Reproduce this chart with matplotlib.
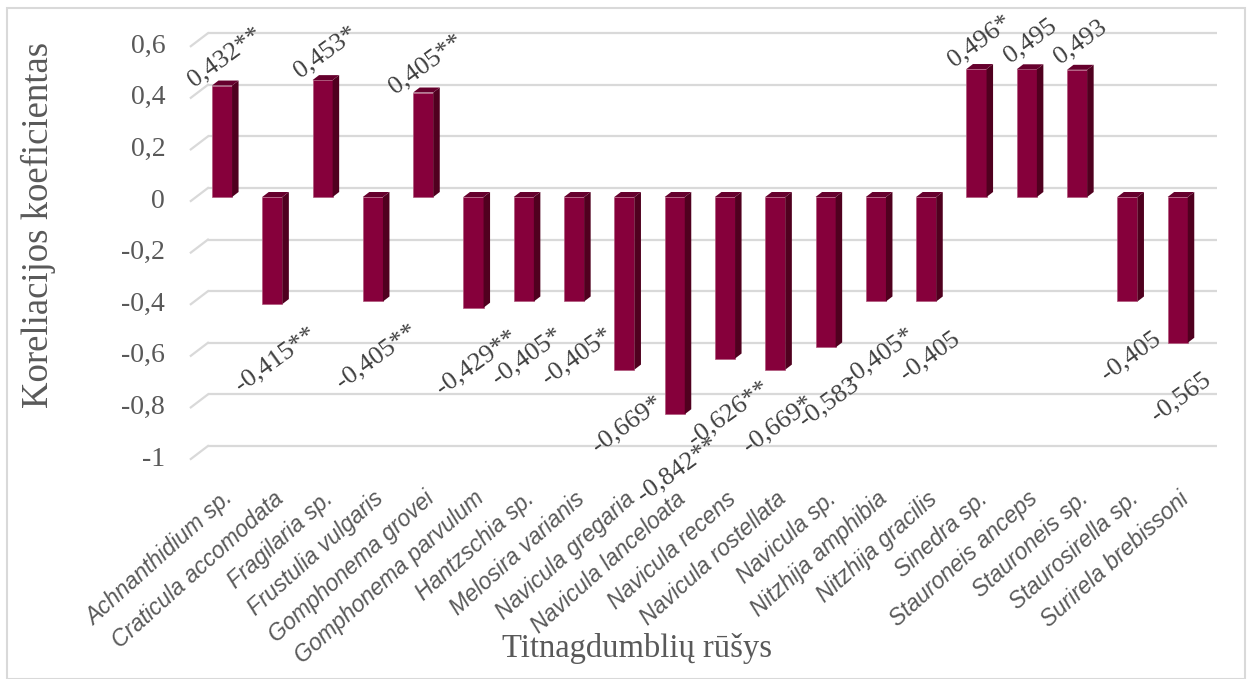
import matplotlib
matplotlib.use("Agg")
import matplotlib.pyplot as plt
from matplotlib.patches import Polygon, Rectangle

# ---- data -------------------------------------------------------------
species = [
    "Achnanthidium sp.", "Craticula accomodata", "Fragilaria sp.",
    "Frustulia vulgaris", "Gomphonema grovei", "Gomphonema parvulum",
    "Hantzschia sp.", "Melosira varianis", "Navicula gregaria",
    "Navicula lanceloata", "Navicula recens", "Navicula rostellata",
    "Navicula sp.", "Nitzhija amphibia", "Nitzhija gracilis", "Sinedra sp.",
    "Stauroneis anceps", "Stauroneis sp.", "Staurosirella sp.",
    "Surirela brebissoni",
]
coefficients = [
    0.432, -0.415, 0.453, -0.405, 0.405, -0.429, -0.405, -0.405, -0.669,
    -0.842, -0.626, -0.669, -0.583, -0.405, -0.405, 0.496, 0.495, 0.493,
    -0.405, -0.565,
]
significance = [
    "**", "**", "*", "**", "**", "**", "*", "*", "*", "**",
    "**", "*", "", "*", "", "*", "", "", "", "",
]
y_ticks = [0.6, 0.4, 0.2, 0, -0.2, -0.4, -0.6, -0.8, -1]
y_title = "Koreliacijos koeficientas"
x_title = "Titnagdumblių rūšys"

# ---- style --------------------------------------------------------------
FRONT = "#86003B"
SIDE = "#50001F"
TOP = "#66002D"
GRID = "#D9D9D9"
TICK_COLOR = "#595959"
LABEL_COLOR = "#404040"
SERIF = ["Liberation Serif", "DejaVu Serif"]
SANS = ["Liberation Sans", "DejaVu Sans"]

W, H = 1248, 679
fig = plt.figure(figsize=(W / 100, H / 100), dpi=100)
fig.patch.set_facecolor("white")

# plot area in pixels
left_px, right_px, top_px, bottom_px = 185, 1225, 20, 462
ax = fig.add_axes([left_px / W, 1 - bottom_px / H,
                   (right_px - left_px) / W, (bottom_px - top_px) / H])
px_per_cat = 50.3
px_per_unit = 258.0
x0_px, y0_px = 222, 197
ax.set_xlim((left_px - x0_px) / px_per_cat, (right_px - x0_px) / px_per_cat)
ax.set_ylim((y0_px - bottom_px) / px_per_unit, (y0_px - top_px) / px_per_unit)
ax.axis("off")

# pseudo-3D geometry (in data units)
bar_w = 0.40
depth_dx, depth_dy = 6.5 / px_per_cat, 5 / px_per_unit
wall_x0, wall_x1 = -0.28, 19.78
wall_dy = 9 / px_per_unit
floor_x0, floor_dy = -0.62, -4 / px_per_unit

# back wall gridlines and floor edges
for t in y_ticks:
    ax.plot([wall_x0, wall_x1], [t + wall_dy, t + wall_dy], color=GRID,
            lw=1.6, zorder=1, solid_capstyle="butt", clip_on=False)
    ax.plot([floor_x0, wall_x0], [t + floor_dy, t + wall_dy], color=GRID,
            lw=1.6, zorder=1, clip_on=False)
    ax.text(-1.13, t + floor_dy, f"{t:g}".replace(".", ","), ha="right",
            va="center", fontsize=20, family=SERIF, color=TICK_COLOR,
            clip_on=False)

# bars: front face, side face, top face
for i, v in enumerate(coefficients):
    xl, xr = i - bar_w / 2, i + bar_w / 2
    lo, hi = min(0, v), max(0, v)
    ax.add_patch(Rectangle((xl, lo), bar_w, hi - lo, facecolor=FRONT,
                           edgecolor="#B0587C", lw=0.5, zorder=3))
    ax.add_patch(Polygon([(xr, lo), (xr + depth_dx, lo + depth_dy),
                          (xr + depth_dx, hi + depth_dy), (xr, hi)],
                         closed=True, facecolor=SIDE, edgecolor="none",
                         zorder=3))
    ax.add_patch(Polygon([(xl, hi), (xr, hi), (xr + depth_dx, hi + depth_dy),
                          (xl + depth_dx, hi + depth_dy)],
                         closed=True, facecolor=TOP, edgecolor="none",
                         zorder=3))

    text = f"{v:.3f}".replace(".", ",") + significance[i]
    off = 28 if v > 0 else -55
    ax.annotate(text, (i + depth_dx / 2, v), xytext=(0, off),
                textcoords="offset pixels", ha="center", va="center",
                rotation=36, rotation_mode="anchor", fontsize=19,
                family=SERIF, color=LABEL_COLOR, zorder=5,
                annotation_clip=False)

# category labels
for i, name in enumerate(species):
    ax.text(i, (y0_px - 487) / px_per_unit, name, ha="right", va="top",
            rotation=42, rotation_mode="anchor", fontsize=16.5,
            family=SANS, style="italic", color=TICK_COLOR, clip_on=False)

# axis titles
fig.text(38 / W, 1 - 225 / H, y_title, rotation=90, ha="center",
         va="center", fontsize=26.5, family=SERIF, color=TICK_COLOR)
fig.text(637 / W, 1 - 648 / H, x_title, ha="center", va="center",
         fontsize=23.5, family=SERIF, color=TICK_COLOR)

# chart border
fig.patches.append(Rectangle((7 / W, 0), (1245 - 7) / W, 1 - 8 / H,
                             transform=fig.transFigure, fill=False,
                             edgecolor=GRID, lw=1.5))

fig.savefig("out.png", dpi=100, facecolor="white")
